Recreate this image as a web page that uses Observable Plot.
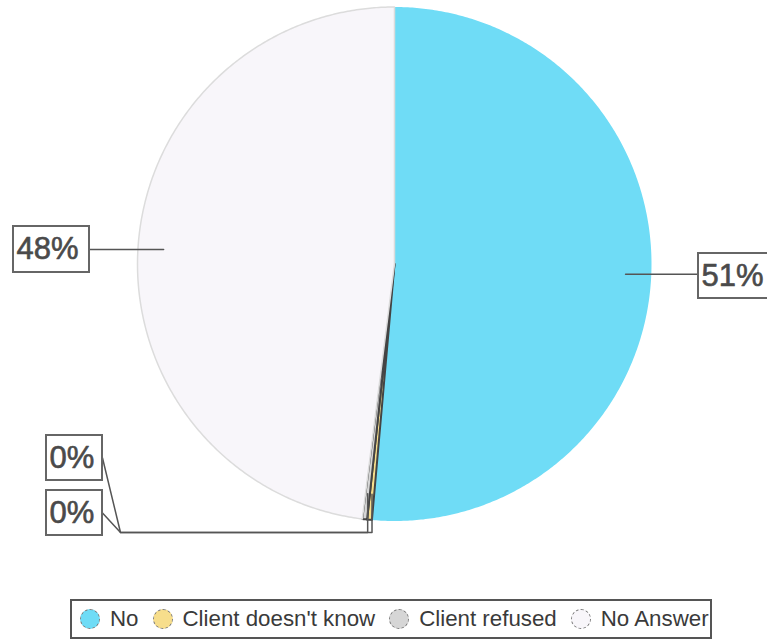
<!DOCTYPE html>
<html>
<head>
<meta charset="utf-8">
<script src="https://cdn.jsdelivr.net/npm/d3@7"></script>
<script src="https://cdn.jsdelivr.net/npm/@observablehq/plot@0.6"></script>
<style>
  html, body { margin: 0; padding: 0; background: #fff; }
  body { width: 767px; height: 641px; position: relative; overflow: hidden; font-family: "Liberation Sans", Arial, sans-serif; }
  #chart { position: absolute; left: 0; top: 0; }
  #legend { position: absolute; left: 70px; top: 599px; width: 638px; height: 36px; border: 2px solid #555;
            display: flex; align-items: center; box-sizing: content-box; }
  .item { display: flex; align-items: center; margin-left: 8px; margin-right: 6px; }
  .sw { width: 20px; height: 20px; border-radius: 50%; box-sizing: border-box; border: 1px dashed #777; margin-right: 10px; }
  .lab { font-size: 22.3px; color: #3a3a3a; white-space: nowrap; }
</style>
</head>
<body>
<div id="chart"></div>
<div id="legend"></div>
<script>
// ---- data ----
const categories = ["No", "Client doesn't know", "Client refused", "No Answer"];
const values = [51.4, 0.3, 0.3, 48.0];
const labels = ["51%", "0%", "0%", "48%"];
const colors = ["#6fdcf6", "#f7de8c", "#d6d6d6", "#f8f6fa"];

// ---- layout ----
const W = 767, H = 590, CX = 394, CY = 263.5, R = 257;
const toX = px => (px - CX) / R;
const toY = py => (CY - py) / R;

const arcs = d3.pie().sort(null).value(d => d)(values);
const strokes = ["none", "#444", "#444", "#dcdcdc"];
const strokeWidths = [1, 2, 2, 1.5];

function polar(a, r) { return [r * Math.sin(a), r * Math.cos(a)]; }

const sliceMarks = arcs.map((a, i) => {
  const pts = [[0, 0]];
  const n = Math.max(2, Math.ceil((a.endAngle - a.startAngle) / (Math.PI / 360)));
  for (let k = 0; k <= n; k++) {
    const t = a.startAngle + (a.endAngle - a.startAngle) * k / n;
    pts.push(polar(t, 1));
  }
  return Plot.line(pts, {x: d => d[0], y: d => d[1], curve: "linear-closed",
    fill: colors[i], stroke: strokes[i], strokeWidth: strokeWidths[i]});
});

// label boxes (pixel layout)
const boxes = [
  {i: 0, x1: 698, x2: 800, y1: 253, y2: 298, tx: 701},
  {i: 1, x1: 46, x2: 102, y1: 435, y2: 480, tx: 49},
  {i: 2, x1: 46, x2: 102, y1: 490, y2: 535, tx: 49},
  {i: 3, x1: 13, x2: 89, y1: 226, y2: 272, tx: 16}
];

const leaders = [];
boxes.forEach(b => {
  const a = arcs[b.i];
  const m = (a.startAngle + a.endAngle) / 2;
  const [sx, sy] = polar(m, 0.9);
  if (b.i === 0) {
    leaders.push({z: b.i, x: sx, y: sy}, {z: b.i, x: toX(b.x1), y: sy});
  } else if (b.i === 3) {
    leaders.push({z: b.i, x: sx, y: sy}, {z: b.i, x: toX(b.x2), y: sy});
  } else {
    leaders.push({z: b.i, x: sx, y: sy}, {z: b.i, x: sx, y: toY(532)},
      {z: b.i, x: toX(120), y: toY(532)}, {z: b.i, x: toX(b.x2), y: toY((b.y1 + b.y2) / 2)});
  }
});

const chart = Plot.plot({
  width: W, height: H, margin: 0,
  x: {domain: [toX(0), toX(W)], axis: null},
  y: {domain: [toY(H), toY(0)], axis: null},
  style: {background: "white"},
  marks: [
    ...sliceMarks,
    Plot.line(leaders, {x: "x", y: "y", z: "z", stroke: "#555", strokeWidth: 1.5}),
    Plot.rect(boxes, {x1: d => toX(d.x1), x2: d => toX(d.x2), y1: d => toY(d.y1), y2: d => toY(d.y2),
      fill: "white", stroke: "#666", strokeWidth: 2}),
    Plot.text(boxes, {x: d => toX(d.tx), y: d => toY((d.y1 + d.y2) / 2), text: d => labels[d.i],
      textAnchor: "start", fontSize: 31, fill: "#4a4a4a", stroke: "#4a4a4a", strokeWidth: 0.6,
      fontFamily: "Liberation Sans, Arial, sans-serif"})
  ]
});
document.getElementById("chart").appendChild(chart);

const lg = document.getElementById("legend");
categories.forEach((c, i) => {
  const it = document.createElement("div");
  it.className = "item";
  it.innerHTML = `<div class="sw" style="background:${colors[i]}"></div><span class="lab">${c}</span>`;
  lg.appendChild(it);
});
</script>
</body>
</html>
